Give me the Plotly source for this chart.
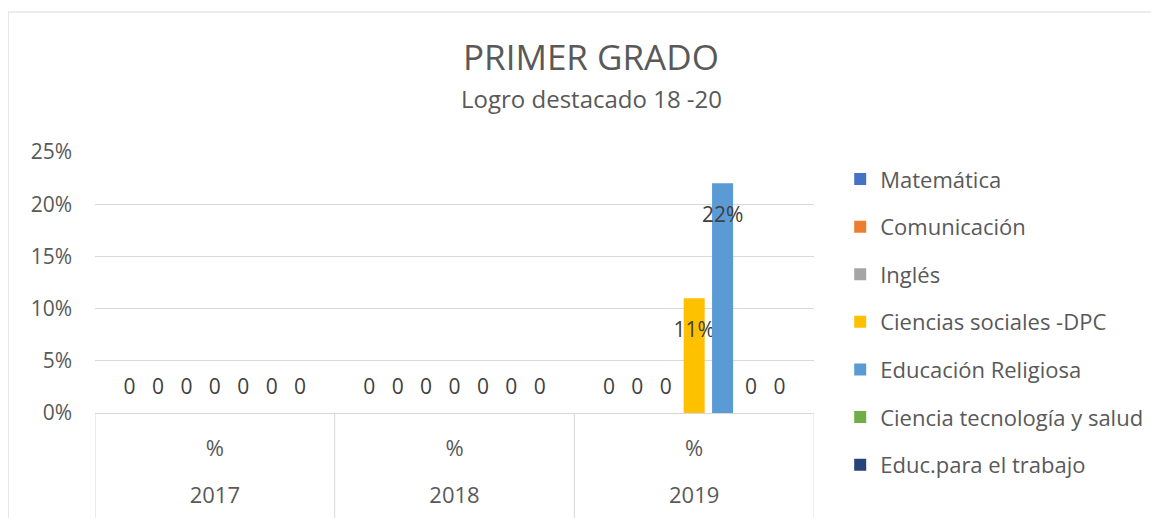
import plotly.graph_objects as go

years = ["2017", "2018", "2019"]
level = ["%", "%", "%"]
subjects = ["Matemática", "Comunicación", "Inglés", "Ciencias sociales -DPC",
            "Educación Religiosa", "Ciencia tecnología y salud", "Educ.para el trabajo"]
colors = ["#4472C4", "#ED7D31", "#A5A5A5", "#FFC000", "#5B9BD5", "#70AD47", "#264478"]

matematica = [0, 0, 0]
comunicacion = [0, 0, 0]
ingles = [0, 0, 0]
ciencias_sociales = [0, 0, 0.11]
educ_religiosa = [0, 0, 0.22]
ciencia_tecnologia = [0, 0, 0]
educ_trabajo = [0, 0, 0]
series = [matematica, comunicacion, ingles, ciencias_sociales,
          educ_religiosa, ciencia_tecnologia, educ_trabajo]

FONT = "Open Sans"
GRAY = "#595959"
LINE = "#d9d9d9"
SPAN = "<span style='font-size:21px'>{}</span>"

fig = go.Figure()
for i, (name, vals) in enumerate(zip(subjects, series)):
    texts = [SPAN.format("0") + "<br>&nbsp;" if v == 0
             else "&nbsp;<br>" + SPAN.format(f"{v:.0%}") for v in vals]
    pos = ["outside" if v == 0 else "inside" for v in vals]
    sizes = [10 if v == 0 else 15 for v in vals]
    lbl = dict(family=FONT, size=sizes, color="#404040")
    fig.add_trace(go.Bar(
        x=years, y=vals, name=name, marker_color=colors[i], marker_line_width=0,
        text=texts, textposition=pos, insidetextanchor="end", constraintext="none",
        textangle=0, textfont=lbl, insidetextfont=lbl, outsidetextfont=lbl,
        cliponaxis=False, legendgroup=name, hoverinfo="skip",
    ))
# carrier for the second (year) level of the category axis
fig.add_trace(go.Scatter(x=years, y=[None] * len(years), xaxis="x2", mode="markers",
                         showlegend=False, hoverinfo="skip"))

shapes = [dict(type="rect", xref="paper", yref="paper",
               x0=(8 - 95) / 720, x1=1.6, y0=-1, y1=(413 - 12) / 261,
               line=dict(color=LINE, width=1), layer="below")]
for xb in [-0.5, 0.5, 1.5, 2.5]:
    shapes.append(dict(type="line", xref="x", yref="paper", x0=xb, x1=xb,
                       y0=0, y1=-0.45, line=dict(color=LINE, width=1)))

fig.update_layout(
    width=1151, height=510,
    margin=dict(l=87, r=344, t=144, b=105),
    paper_bgcolor="white", plot_bgcolor="white",
    barmode="group", bargap=0.17, bargroupgap=0.26,
    showlegend=True,
    legend=dict(x=1.035, y=0.976, xanchor="left", yanchor="top",
                font=dict(family=FONT, size=22, color=GRAY),
                tracegroupgap=16, traceorder="grouped", maxheight=1000,
                bgcolor="rgba(0,0,0,0)"),
    shapes=shapes,
    annotations=[
        dict(text="PRIMER GRADO", xref="paper", yref="paper", x=(592 - 95) / 720,
             y=(413 - 56) / 261, showarrow=False, xanchor="center", yanchor="middle",
             font=dict(family=FONT, size=35, color=GRAY)),
        dict(text="Logro destacado 18 -20", xref="paper", yref="paper", x=(592 - 95) / 720,
             y=(413 - 98) / 261, showarrow=False, xanchor="center", yanchor="middle",
             font=dict(family=FONT, size=24, color=GRAY)),
    ],
    xaxis2=dict(overlaying="x", anchor="y", side="bottom", type="category",
                categoryarray=years, range=[-0.5, 2.5], tickmode="array",
                tickvals=years, ticktext=years, showline=False, showgrid=False,
                zeroline=False, ticks="outside", ticklen=63,
                tickcolor="rgba(0,0,0,0)", automargin=False,
                tickfont=dict(family=FONT, size=22, color=GRAY)),
)
fig.update_yaxes(range=[0, 0.25], dtick=0.05, tickformat=".0%", showgrid=True,
                 gridcolor=LINE, gridwidth=1, zeroline=False, showline=False,
                 ticks="", tickfont=dict(family=FONT, size=21, color=GRAY),
                 ticklabelstandoff=22, automargin=False)
fig.update_layout(xaxis=dict(type="category", tickmode="array", tickvals=years,
                 ticktext=level, categoryarray=years, range=[-0.5, 2.5],
                 showline=True, linecolor=LINE, linewidth=1, showgrid=False,
                 ticks="outside", ticklen=16, tickcolor="rgba(0,0,0,0)",
                 automargin=False, tickfont=dict(family=FONT, size=22, color=GRAY)))

fig.write_html("out.html")
